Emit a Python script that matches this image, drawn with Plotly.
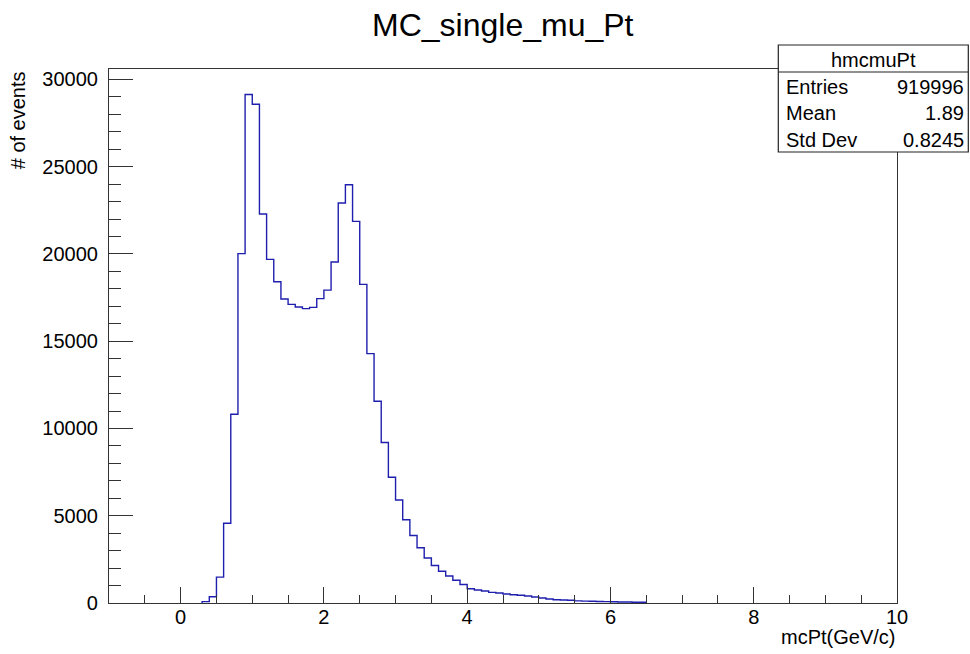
import numpy as np
import plotly.graph_objects as go

# ---- data ----
title_text = "MC_single_mu_Pt"
x_title = "mcPt(GeV/c)"
y_title = "# of events"
first_edge = 0.3
bin_width = 0.1
counts = [80, 360, 1480, 4570, 10820, 20020, 29140, 28580, 22290, 19690,
          18410, 17420, 17110, 16960, 16870, 16940, 17440, 17930, 19540, 22920,
          23970, 21870, 18260, 14290, 11560, 9200, 7210, 5900, 4770, 3870,
          3170, 2580, 2150, 1820, 1550, 1300, 1060, 820, 745, 685,
          610, 570, 515, 475, 440, 400, 345, 290, 230, 190,
          175, 160, 120, 110, 100, 90, 80, 70, 60, 55,
          45, 40]
stats_name = "hmcmuPt"
stats_labels = ["Entries", "Mean", "Std Dev"]
stats_values = ["919996", "1.89", "0.8245"]
x_range = [-1, 10]
y_range = [0, 30600]

# ---- geometry ----
W, H = 970, 654
ml, mr, mt, mb = 108.7, 970 - 896.7, 69, 654 - 603
pw = W - ml - mr
ph = H - mt - mb
FONT = "Liberation Sans, Arial, Helvetica, sans-serif"

def px_x(p):
    return (p - ml) / pw

def px_y(p):
    return (H - mb - p) / ph

n = len(counts)
edges = np.round(first_edge + bin_width * np.arange(n + 1), 4)
xs = [edges[0]] + list(edges)
ys = [0] + list(counts) + [0]

fig = go.Figure()
fig.add_trace(go.Scatter(x=xs, y=ys, mode="lines", line_shape="hv",
                         line=dict(color="#1f1fae", width=1.4),
                         hoverinfo="skip", showlegend=False))

axis_common = dict(showline=True, linecolor="#333", linewidth=1.2, mirror=True,
                   showgrid=False, zeroline=False, ticks="inside",
                   tickcolor="#333", tickwidth=1.2,
                   tickfont=dict(family=FONT, size=20, color="black"))

fig.update_xaxes(range=x_range, tick0=0, dtick=2, ticklen=16,
                 minor=dict(ticks="inside", dtick=0.5, tick0=0, ticklen=8,
                            tickcolor="#333", tickwidth=1.2, showgrid=False),
                 ticklabelstandoff=-4, tickformat="d", **axis_common)
fig.update_yaxes(range=y_range, tick0=0, dtick=5000, ticklen=24,
                 minor=dict(ticks="inside", dtick=1000, tick0=0, ticklen=12,
                            tickcolor="#333", tickwidth=1.2, showgrid=False),
                 ticklabelstandoff=6, tickformat="d", **axis_common)

annotations = [
    dict(text=title_text, x=0.5, xref="paper", y=px_y(25), yref="paper",
         xanchor="center", yanchor="middle", showarrow=False,
         font=dict(family=FONT, size=32, color="black")),
    dict(text=x_title, x=1, xref="paper", y=px_y(637), yref="paper",
         xanchor="right", yanchor="middle", showarrow=False,
         font=dict(family=FONT, size=20, color="black")),
    dict(text=y_title, x=px_x(18), xref="paper", y=1, yref="paper",
         xanchor="center", yanchor="top", textangle=-90, showarrow=False,
         font=dict(family=FONT, size=20, color="black")),
    dict(text=stats_name, x=px_x(873), xref="paper", y=px_y(60), yref="paper",
         xanchor="center", yanchor="middle", showarrow=False,
         font=dict(family=FONT, size=20, color="black")),
]
row_y = [86.5, 113, 140]
for lab, val, ry in zip(stats_labels, stats_values, row_y):
    annotations.append(dict(text=lab, x=px_x(784), xref="paper", y=px_y(ry), yref="paper",
                            xanchor="left", yanchor="middle", showarrow=False,
                            font=dict(family=FONT, size=20, color="black")))
    annotations.append(dict(text=val, x=px_x(966), xref="paper", y=px_y(ry), yref="paper",
                            xanchor="right", yanchor="middle", showarrow=False,
                            font=dict(family=FONT, size=20, color="black")))

shapes = [
    dict(type="rect", xref="paper", yref="paper", x0=px_x(778), x1=px_x(968),
         y0=px_y(152), y1=px_y(45), fillcolor="white",
         line=dict(color="#222", width=1.2), layer="above"),
    dict(type="line", xref="paper", yref="paper", x0=px_x(778), x1=px_x(968),
         y0=px_y(72), y1=px_y(72), line=dict(color="#222", width=1.2), layer="above"),
]

fig.update_layout(width=W, height=H, margin=dict(l=ml, r=mr, t=mt, b=mb),
                  paper_bgcolor="white", plot_bgcolor="white",
                  annotations=annotations, shapes=shapes, showlegend=False)

fig.write_html("out.html")
